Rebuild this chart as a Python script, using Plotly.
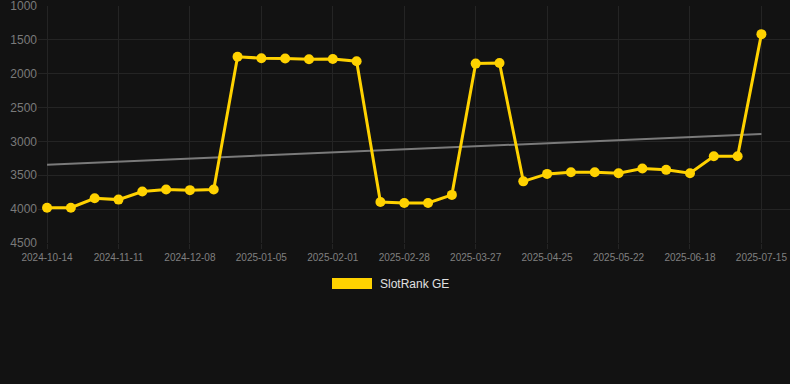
import plotly.graph_objects as go

dates = ["2024-10-14", "2024-10-23", "2024-11-01", "2024-11-11", "2024-11-20", "2024-11-29",
         "2024-12-08", "2024-12-17", "2024-12-27", "2025-01-05", "2025-01-14", "2025-01-23",
         "2025-02-01", "2025-02-10", "2025-02-19", "2025-02-28", "2025-03-09", "2025-03-18",
         "2025-03-27", "2025-04-05", "2025-04-15", "2025-04-25", "2025-05-04", "2025-05-13",
         "2025-05-22", "2025-05-31", "2025-06-09", "2025-06-18", "2025-06-27", "2025-07-06",
         "2025-07-15"]
ranks = [3980, 3980, 3840, 3860, 3740, 3710, 3720, 3710, 1750, 1770, 1775, 1785, 1783, 1815,
         3895, 3910, 3910, 3790, 1850, 1840, 3590, 3480, 3455, 3455, 3470, 3400, 3420, 3470,
         3220, 3220, 1415]
trend_x = [dates[0], dates[-1]]
trend_y = [3345, 2890]
tick_labels = dates[::3]
y_ticks = [1000, 1500, 2000, 2500, 3000, 3500, 4000, 4500]
series_name = "SlotRank GE"

BG = "#121212"
GRID = "#242424"
GOLD = "#FFD200"

fig = go.Figure()
fig.add_trace(go.Scatter(x=trend_x, y=trend_y, mode="lines",
                         line=dict(color="#7a7a7a", width=2), showlegend=False, hoverinfo="skip"))
fig.add_trace(go.Scatter(x=dates, y=ranks, mode="lines+markers", name=series_name,
                         line=dict(color=GOLD, width=3),
                         marker=dict(color=GOLD, size=10), showlegend=False))

fig.update_layout(
    width=790, height=384,
    paper_bgcolor=BG, plot_bgcolor=BG,
    margin=dict(l=38, r=0, t=6, b=141),
    font=dict(family="Liberation Sans, Arial, sans-serif", color="#777"),
    xaxis=dict(type="category", categoryorder="array", categoryarray=dates,
               range=[-0.38, 31.2], tickmode="array", tickvals=tick_labels, ticktext=tick_labels,
               showgrid=True, gridcolor=GRID, gridwidth=1, zeroline=False, showline=False,
               ticks="outside", ticklen=5, tickcolor=GRID, ticklabeloverflow="allow",
               tickfont=dict(size=10, color="#808080"), tickangle=0),
    yaxis=dict(range=[4501, 999], tickmode="array", tickvals=y_ticks,
               showgrid=True, gridcolor=GRID, gridwidth=1, zeroline=False, showline=False,
               ticks="", ticklabeloverflow="allow", tickfont=dict(size=12, color="#7a7a7a")),
    shapes=[dict(type="rect", xref="paper", yref="paper",
                 x0=(332 - 38) / 752, x1=(372 - 38) / 752,
                 y0=(384 - 141 - 289) / 237, y1=(384 - 141 - 278) / 237,
                 fillcolor=GOLD, line=dict(width=0))],
    annotations=[dict(text=series_name, xref="paper", yref="paper",
                      x=(378 - 38) / 752, y=(384 - 141 - 284) / 237,
                      xanchor="left", yanchor="middle", showarrow=False,
                      font=dict(size=12, color="#e0e0e0"))],
)

fig.write_html("out.html", config={"displayModeBar": False},
               post_script="document.body.style.margin='0';document.body.style.background='#121212';")
